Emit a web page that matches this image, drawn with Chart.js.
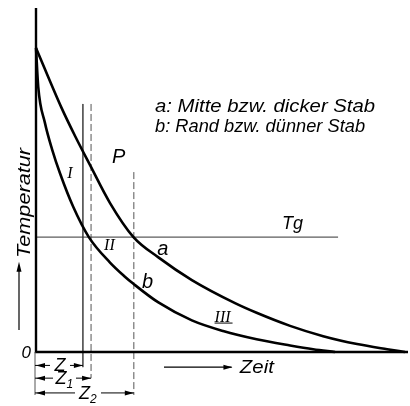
<!DOCTYPE html>
<html><head><meta charset="utf-8">
<script src="https://cdn.jsdelivr.net/npm/chart.js@4"></script>
<style>html,body{margin:0;padding:0;background:#fff}#wrap{width:410px;height:406px}</style>
</head><body><div id="wrap"><canvas id="c" width="410" height="406"></canvas></div>
<script>
// Curve a (Mitte / dicker Stab)
const timeA = [0, 6.9, 10.5, 14.5, 19.9, 26.2, 32.9, 41.9, 53.5, 59.3, 68.3, 77.2, 86.3, 94.4, 99.2];
const tempA = [88.4, 70.9, 62.8, 54.4, 43.3, 33.4, 27.5, 20.9, 14.2, 11.4, 7.6, 4.6, 2.3, 0.8, 0];
// Curve b (Rand / dünner Stab)
const timeB = [0, 0.6, 2.4, 4.3, 6.5, 10.0, 14.2, 19.9, 23.9, 26.1, 32.9, 41.9, 50.3, 59.3, 68.3, 74.5, 80.4];
const tempB = [88.4, 77.1, 66.6, 59.0, 51.8, 42.2, 33.4, 26.0, 21.9, 19.9, 14.4, 9.2, 6.1, 3.7, 1.9, 0.8, 0];
// Tg level
const tgLevel = 33.4;
const tgEnd = 81.2;
// Z marks
const zNames = ['Z', 'Z', 'Z'];
const zSubs = ['', '1', '2'];
const zTimes = [12.6, 14.8, 26.3];
const zTops = [72.1, 72.1, 52.3];
const zBottoms = [-4.4, -7.6, -12.5];

const pts = (xs, ys) => xs.map((x, i) => ({x, y: ys[i]}));

const datasets = [
  {data: pts(timeA, tempA), borderColor: '#000', borderWidth: 2.6, pointRadius: 0, showLine: true, cubicInterpolationMode: 'monotone', clip: false},
  {data: pts(timeB, tempB), borderColor: '#000', borderWidth: 2.6, pointRadius: 0, showLine: true, cubicInterpolationMode: 'monotone', clip: false},
  {data: [{x: 0, y: tgLevel}, {x: tgEnd, y: tgLevel}], borderColor: '#333', borderWidth: 1, pointRadius: 0, showLine: true}
];
zTimes.forEach((z, i) => {
  datasets.push({data: [{x: z, y: zTops[i]}, {x: z, y: zBottoms[i]}], borderColor: '#555', borderWidth: 1,
    borderDash: i === 0 ? [] : [7, 3], pointRadius: 0, showLine: true, clip: false});
});

function arrowHead(ctx, x, y, dir) { // dir: 'l','r','u'
  ctx.beginPath();
  if (dir === 'l') { ctx.moveTo(x, y); ctx.lineTo(x + 9, y - 2.5); ctx.lineTo(x + 9, y + 2.5); }
  else if (dir === 'r') { ctx.moveTo(x, y); ctx.lineTo(x - 9, y - 2.5); ctx.lineTo(x - 9, y + 2.5); }
  else { ctx.moveTo(x, y); ctx.lineTo(x - 2.5, y + 10); ctx.lineTo(x + 2.5, y + 10); }
  ctx.closePath(); ctx.fill();
}

const decor = {
  id: 'decor',
  afterDatasetsDraw(chart) {
    const ctx = chart.ctx, xs = chart.scales.x, ys = chart.scales.y;
    const X = v => xs.getPixelForValue(v), Y = v => ys.getPixelForValue(v);
    ctx.save();
    ctx.strokeStyle = '#000'; ctx.fillStyle = '#000';
    // axes
    ctx.lineWidth = 2.4;
    ctx.beginPath(); ctx.moveTo(X(0), Y(100)); ctx.lineTo(X(0), Y(0)); ctx.lineTo(X(100), Y(0)); ctx.stroke();
    // extension line below origin
    ctx.lineWidth = 1; ctx.strokeStyle = '#555';
    ctx.beginPath(); ctx.moveTo(X(0) - 1, Y(0)); ctx.lineTo(X(0) - 1, Y(zBottoms[2])); ctx.stroke();
    ctx.strokeStyle = '#000';
    // dimension arrows
    const rowY = [Y(-3.9), Y(-7.6), Y(-11.9)];
    const gaps = [[50, 70], [53, 76], [75, 101]];
    zTimes.forEach((z, i) => {
      const x0 = X(0) - 1, x1 = X(z), y = rowY[i];
      ctx.beginPath(); ctx.moveTo(x0, y); ctx.lineTo(gaps[i][0], y); ctx.moveTo(gaps[i][1], y); ctx.lineTo(x1, y); ctx.stroke();
      arrowHead(ctx, x0 + 1, y, 'l'); arrowHead(ctx, x1, y, 'r');
      ctx.font = 'italic 18px "Liberation Sans"';
      const lx = (gaps[i][0] + gaps[i][1]) / 2;
      const w = ctx.measureText(zNames[i]).width;
      const subW = zSubs[i] ? 7 : 0;
      ctx.textBaseline = 'middle';
      ctx.fillText(zNames[i], lx - (w + subW) / 2, y + 1);
      if (zSubs[i]) { ctx.font = 'italic 12px "Liberation Sans"'; ctx.fillText(zSubs[i], lx - (w + subW) / 2 + w, y + 7); }
    });
    ctx.textBaseline = 'alphabetic';
    // Zeit arrow
    ctx.lineWidth = 1.2;
    const zy = Y(-4.4);
    ctx.beginPath(); ctx.moveTo(X(34.4), zy); ctx.lineTo(X(52.6), zy); ctx.stroke();
    arrowHead(ctx, X(52.8), zy, 'r');
    // Temperatur arrow
    const tx = 19;
    ctx.beginPath(); ctx.moveTo(tx, Y(6.4)); ctx.lineTo(tx, Y(25)); ctx.stroke();
    arrowHead(ctx, tx, Y(26.2), 'u');

    const text = (s, xd, yd, font, width) => {
      ctx.font = font;
      const px = X(xd), py = Y(yd);
      if (width) {
        const w = ctx.measureText(s).width;
        ctx.save(); ctx.translate(px, py); ctx.scale(width / w, 1); ctx.fillText(s, 0, 0); ctx.restore();
      } else ctx.fillText(s, px, py);
    };
    const sans = 'italic 18px "Liberation Sans"';
    const serif = 'italic 16px "Liberation Serif"';
    text('a: Mitte bzw. dicker Stab', 32.0, 69.8, sans, 220);
    text('b: Rand bzw. dünner Stab', 32.0, 64.0, sans, 210);
    text('P', 20.4, 54.9, 'italic 20px "Liberation Sans"');
    text('I', 8.4, 50.6, serif);
    text('II', 18.3, 29.7, serif);
    text('III', 48.0, 8.7, serif);
    text('a', 32.6, 28.2, 'italic 20px "Liberation Sans"');
    text('b', 28.5, 18.6, 'italic 20px "Liberation Sans"');
    text('Tg', 66.1, 35.8, sans);
    text('0', -3.9, -1.7, 'italic 17px "Liberation Sans"');
    text('Zeit', 54.8, -6.1, sans, 34);
    // III underline
    ctx.lineWidth = 1;
    ctx.beginPath(); ctx.moveTo(X(48.0), Y(8.7) + 1); ctx.lineTo(X(48.0) + 18, Y(8.7) + 1); ctx.stroke();
    // Temperatur rotated
    ctx.save();
    ctx.translate(30, 258); ctx.rotate(-Math.PI / 2);
    ctx.font = sans;
    const tw = ctx.measureText('Temperatur').width;
    ctx.scale(110 / tw, 1);
    ctx.fillText('Temperatur', 0, 0);
    ctx.restore();
    ctx.restore();
  }
};

new Chart(document.getElementById('c'), {
  type: 'scatter',
  data: {datasets},
  options: {
    responsive: false, animation: false,
    layout: {padding: {left: 36, right: 2, top: 8, bottom: 54}},
    scales: {
      x: {type: 'linear', min: 0, max: 100, display: false},
      y: {type: 'linear', min: 0, max: 100, display: false}
    },
    plugins: {legend: {display: false}, tooltip: {enabled: false}}
  },
  plugins: [decor]
});
</script></body></html>
